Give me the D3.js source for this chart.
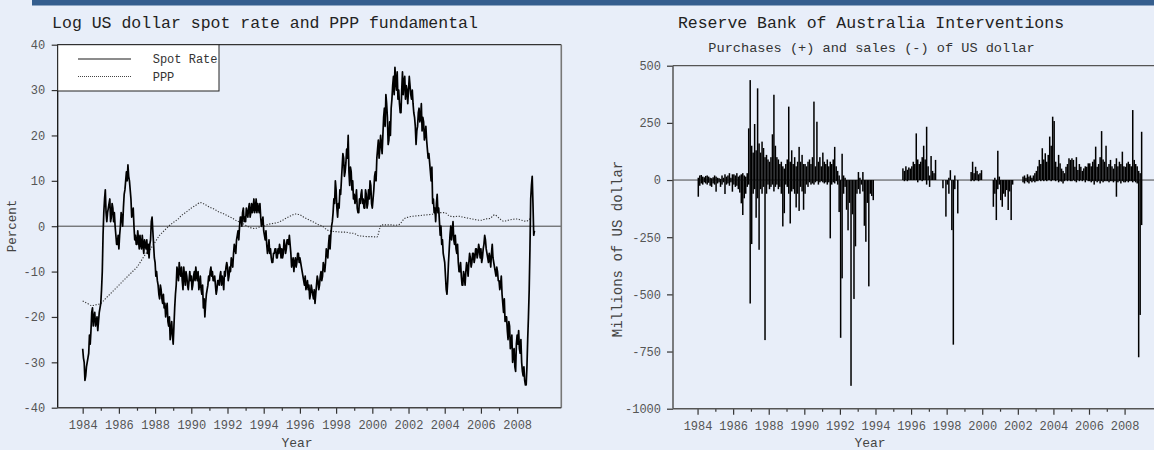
<!DOCTYPE html>
<html><head><meta charset="utf-8">
<script src="https://cdn.jsdelivr.net/npm/d3@7"></script>
<style>
html,body{margin:0;padding:0;background:#e8eef9;}
svg{display:block;}
text{font-family:"Liberation Mono","Courier New",monospace;}
</style></head><body>
<svg id="c" width="1154" height="450"></svg>
<script>
// ---------- DATA ----------
const startYear = 1984;           // first month of every monthly series
const yearTicks = [1984,1986,1988,1990,1992,1994,1996,1998,2000,2002,2004,2006,2008];
const minorYearTicks = [1985,1987,1989,1991,1993,1995,1997,1999,2001,2003,2005,2007];
const spotTicks = [-40,-30,-20,-10,0,10,20,30,40];
const interventionTicks = [-1000,-750,-500,-250,0,250,500];

// Log US dollar spot rate, start of each month, percent
const spotRate = [
 -27,-30,-33,-30,-28,-26,-19,-22,-19,-21,-23,-19,
 -17,-10,3,8,1,4,6,2,4,3,-2,-4,
 -5,0,2,4,8,12,13.5,10,6,3,0,-2,
 -4,-3,-2,-5,-4,-3,-5,-6,-7,-3,2,-4,
 -8,-10,-13,-16,-14,-17,-18,-20,-17,-22,-25,-21,
 -26,-18,-13,-10,-8,-11,-12,-9,-13,-11,-14,-10,
 -11,-13,-10,-9,-12,-14,-11,-15,-18,-20,-15,-13,
 -12,-9,-10,-12,-13,-14,-12,-11,-13,-12,-10,-9,
 -9,-11,-10,-8,-6,-5,-3,-1,0,2,3,1,
 1,3,4,2,5,4,3,6,5,3,2,1,
 -1,-3,-4,-5,-6,-7,-8,-6,-5,-7,-6,-5,
 -5,-6,-4,-5,-3,-2,-6,-8,-10,-7,-8,-6,
 -7,-9,-11,-13,-14,-12,-13,-15,-14,-16,-17,-13,
 -12,-13,-10,-11,-9,-8,-6,-4,-5,0,3,5,
 8,2,4,7,13,15,12,17,20,9,12,10,
 7,6,4,3,5,8,6,4,7,5,6,9,
 4,8,12,15,19,17,18,20,26,29,24,19,
 20,28,33,35,30,28,27,25,34,32,28,30,
 30,31,28,27,24,18,22,26,24,21,23,20,
 19,15,14,10,5,3,1,7,4,-2,-4,-6,
 -8,-14,-12,-5,0,-1,-3,-2,-6,-8,-10,-11,
 -13,-11,-10,-9,-8,-7,-8,-6,-7,-5,-6,-5,
 -5,-7,-4,-3,-6,-8,-7,-6,-7,-9,-11,-10,
 -12,-13,-15,-19,-21,-20,-25,-22,-26,-30,-27,-32,
 -24,-23,-28,-30,-33,-34,-35,-25,-14,6,11,-2
];
// Log US dollar spot rate, middle of each month, percent
const spotRateMid = [
 -29,-34,-31,-29,-24,-23,-18,-20,-22,-20,-21,-18,
 -14,-2,6,3,3,5,1,5,1,0,-4,-2,
 -2,3,0,7,10,10,11,8,2,4,-3,-4,
 -1,-5,-4,-2,-6,-4,-3,-4,-4,1,-1,-7,
 -11,-12,-15,-13,-16,-15,-17,-18,-21,-20,-23,-24,
 -22,-15,-9,-12,-10,-9,-14,-11,-10,-13,-12,-12,
 -14,-11,-12,-11,-10,-13,-14,-13,-16,-17,-14,-11,
 -10,-11,-12,-11,-15,-12,-13,-10,-11,-14,-11,-8,
 -12,-9,-7,-9,-4,-6,-2,-3,2,0,4,2,
 4,2,5,3,3,6,4,3,4,5,0,2,
 -2,-1,-6,-3,-5,-8,-6,-5,-7,-5,-4,-7,
 -7,-3,-6,-3,-4,-4,-9,-7,-8,-9,-6,-8,
 -8,-10,-12,-11,-13,-14,-16,-13,-15,-14,-15,-11,
 -14,-11,-12,-8,-10,-5,-7,-2,-2,1,6,10,
 4,5,8,10,16,11,14,15,12,13,8,6,
 5,8,3,6,7,5,4,8,4,8,10,5,
 6,11,10,17,15,20,16,24,22,27,18,23,
 26,31,29,32,34,30,25,30,29,33,31,27,
 33,29,30,25,22,21,25,23,27,24,19,22,
 17,16,12,13,6,4,5,3,1,0,-3,-7,
 -11,-15,-8,-2,-3,1,-4,-5,-4,-10,-8,-13,
 -10,-13,-8,-11,-6,-9,-6,-8,-5,-7,-4,-7,
 -8,-5,-2,-5,-7,-6,-9,-4,-8,-10,-9,-12,
 -14,-11,-17,-16,-20,-23,-21,-27,-24,-28,-31,-26,
 -26,-27,-25,-32,-31,-35,-31,-20,-5,9,5,-1
];

// PPP fundamental, quarterly
const pppQuarterly = [
 -16.5,-17.0,-17.5,-17.3,
 -17.0,-16.0,-15.0,-14.0,
 -13.0,-12.0,-11.0,-10.0,
 -9.0,-7.5,-6.0,-5.0,
 -3.5,-2.0,-1.0,0.0,
 0.8,1.5,2.5,3.2,
 4.0,4.6,5.2,4.8,
 4.2,3.8,3.2,2.8,
 2.3,1.8,1.2,0.8,
 0.2,-0.3,-0.5,-0.2,
 0.0,0.4,0.6,0.8,
 1.2,1.8,2.3,2.7,
 2.5,1.9,1.4,0.9,
 0.4,0.0,-0.8,-1.1,
 -1.2,-1.3,-1.3,-1.5,
 -1.6,-2.1,-2.2,-2.3,
 -2.3,-2.4,0.3,0.3,
 0.3,0.2,0.4,1.6,
 2.0,2.2,2.3,2.4,
 2.5,2.6,2.8,3.0,
 3.0,2.3,2.1,2.2,
 2.0,1.8,1.6,1.4,
 1.3,1.6,1.7,2.5,
 1.8,1.1,1.3,1.5,
 1.6,1.3,1.1,1.8
];

// RBA purchases (+) of US dollar, monthly peak, US$ millions
const purchases = [
 10,20,22,15,12,18,20,15,10,8,12,20,
 15,10,8,5,20,10,25,15,20,30,10,25,
 25,20,30,15,20,25,30,20,15,30,226,437,
 150,120,245,130,401,160,120,168,140,100,110,90,
 80,100,200,373,150,100,90,70,80,60,50,70,
 90,321,80,130,70,100,60,80,145,80,110,70,
 70,60,80,90,70,100,343,60,255,80,100,60,
 120,80,70,90,60,80,70,90,145,60,40,20,
 0,115,20,10,0,0,0,0,0,0,0,0,
 35,10,0,35,0,0,0,0,0,0,0,0,
 0,0,0,0,0,0,0,0,0,0,0,0,
 0,0,0,0,0,0,51,40,60,45,55,50,
 60,80,70,204,90,70,80,100,150,90,233,60,
 20,105,40,30,88,0,0,0,0,0,0,0,
 0,10,43,0,0,20,0,0,0,0,0,0,
 0,0,0,0,35,80,30,58,40,25,30,43,
 0,0,0,0,0,0,0,0,10,0,128,15,
 0,0,0,0,0,0,0,0,0,0,0,0,
 0,0,0,15,20,10,25,15,20,10,20,30,
 40,60,88,70,139,90,117,80,110,190,150,277,
 258,80,58,110,73,50,40,30,58,70,95,88,
 95,88,58,100,44,70,58,40,51,60,58,73,
 73,60,80,90,146,58,70,100,214,90,80,150,
 58,70,88,60,50,70,95,60,80,70,124,60,
 58,73,80,70,60,306,88,70,60,40,30,211
];

// RBA sales (-) of US dollar, monthly trough, US$ millions
const sales = [
 -73,-25,-15,-20,-10,-15,-20,-12,-25,-30,-15,-20,
 -51,-15,-10,-30,-20,-10,-61,-20,-15,-25,-10,-51,
 -20,-30,-25,-40,-55,-102,-153,-80,-60,-30,-20,-540,
 -280,-60,-40,-165,-80,-305,-40,-60,-30,-700,-60,-20,
 -40,-30,-20,-50,-30,-20,-40,-30,-60,-203,-145,-20,
 -30,-60,-190,-50,-40,-60,-120,-60,-135,-30,-50,-130,
 -60,-20,-30,-10,-20,-15,-20,-10,-5,-20,-10,-5,
 -10,-15,-10,-20,-10,-255,-20,-10,-15,-5,-20,-140,
 -690,-430,-60,-30,-130,-220,-100,-900,-150,-520,-290,-60,
 -40,-60,-20,-50,-200,-270,-100,-465,-60,-70,-88,0,
 0,0,0,0,0,0,0,0,0,0,0,0,
 0,0,0,0,0,0,0,-5,0,-5,0,0,
 0,0,0,0,-10,0,0,-5,0,0,-20,0,
 -30,0,0,0,0,0,0,0,0,-36,0,-160,
 -20,-60,0,-219,-720,-40,0,-146,0,0,0,0,
 0,0,0,0,-5,0,-5,0,0,-5,0,0,
 0,0,0,0,0,0,0,-117,-60,-175,-40,-20,
 -88,-117,-60,-73,-44,-131,-50,-175,-20,0,0,0,
 0,0,0,-10,-15,-5,-10,-15,-5,-10,-5,-10,
 -5,-5,0,-5,0,-5,0,-5,0,0,-5,0,
 0,-5,0,-10,-5,-7,-15,-5,0,-5,0,-5,
 -5,0,-5,-10,0,-5,0,-5,0,-10,0,-5,
 -5,-10,-5,-20,-5,-10,-5,-15,-5,-10,-5,-5,
 -5,-10,-5,-5,-10,-5,-73,-10,-5,-15,-5,-10,
 -10,-5,-10,-5,-5,-10,-5,-10,-15,-775,-590,-197
];

// ---------- DRAW ----------
const svg = d3.select("#c");
const W = 1154, H = 450;
svg.append("rect").attr("width",W).attr("height",H).attr("fill","#e8eef9");
svg.append("rect").attr("x",32).attr("y",0).attr("width",W-32).attr("height",5.5).attr("fill","#355e8e");

const xDomain = [1982.62, 2010.44];
const monthYear = i => startYear + i/12;

// ---- Left panel ----
const L = {x0:57.7, x1:561.3, y0:44.7, y1:407.7};
const xL = d3.scaleLinear().domain(xDomain).range([L.x0, L.x1]);
const yL = d3.scaleLinear().domain([-40,40]).range([L.y1, L.y0]);
const gL = svg.append("g");

gL.append("text").attr("x",265).attr("y",28).attr("text-anchor","middle")
  .attr("font-size",16.5).attr("fill","#222").text("Log US dollar spot rate and PPP fundamental");

gL.append("line").attr("x1",L.x0).attr("x2",L.x1).attr("y1",yL(0)).attr("y2",yL(0))
  .attr("stroke","#444").attr("stroke-width",1);

const pppLine = d3.line().x((d,i)=>xL(startYear + i/4)).y(d=>yL(d)).curve(d3.curveMonotoneX);
gL.append("path").datum(pppQuarterly).attr("d",pppLine).attr("fill","none")
  .attr("stroke","#333").attr("stroke-width",1.1).attr("stroke-dasharray","1.2,1.6");

// spot series: start-of-month and mid-month observations in time order
const spotSeries = [];
spotRate.forEach((v,i)=>{
  spotSeries.push({t:monthYear(i), v});
  spotSeries.push({t:monthYear(i)+1/24, v:spotRateMid[i]});
});
const spotLine = d3.line().x(d=>xL(d.t)).y(d=>yL(d.v));
gL.append("path").datum(spotSeries).attr("d",spotLine).attr("fill","none")
  .attr("stroke","#000").attr("stroke-width",1.7).attr("stroke-linejoin","round");

gL.append("line").attr("x1",L.x0).attr("x2",L.x1).attr("y1",L.y0).attr("y2",L.y0).attr("stroke","#333").attr("stroke-width",1.2);
gL.append("line").attr("x1",L.x1).attr("x2",L.x1).attr("y1",L.y0).attr("y2",L.y1).attr("stroke","#777").attr("stroke-width",1.6);

const yAxL = d3.axisLeft(yL).tickValues(spotTicks).tickSize(6).tickPadding(6.5).tickFormat(d=>String(d));
const gyL = gL.append("g").attr("transform",`translate(${L.x0},0)`).call(yAxL);
const xAxL = d3.axisBottom(xL).tickValues(yearTicks).tickSize(6).tickPadding(7).tickFormat(d3.format("d"));
const gxL = gL.append("g").attr("transform",`translate(0,${L.y1})`).call(xAxL);
const xAxLm = d3.axisBottom(xL).tickValues(minorYearTicks).tickSize(3).tickFormat("");
const gxLm = gL.append("g").attr("transform",`translate(0,${L.y1})`).call(xAxLm);
[gyL,gxL,gxLm].forEach(g=>{
  g.select(".domain").remove();
  g.selectAll("line").attr("stroke","#333").attr("stroke-width",1.2);
  g.selectAll("text").attr("font-size",12).attr("fill","#555").attr("font-family","Liberation Mono, monospace");
});
gL.append("line").attr("x1",L.x0).attr("x2",L.x0).attr("y1",L.y0).attr("y2",L.y1).attr("stroke","#111").attr("stroke-width",1.3);
gL.append("line").attr("x1",L.x0).attr("x2",L.x1).attr("y1",L.y1).attr("y2",L.y1).attr("stroke","#444").attr("stroke-width",1.4);

gL.append("text").attr("transform","translate(16,226) rotate(-90)").attr("text-anchor","middle")
  .attr("font-size",12.5).attr("fill","#444").text("Percent");
gL.append("text").attr("x",297).attr("y",447).attr("text-anchor","middle")
  .attr("font-size",13).attr("fill","#444").text("Year");

// legend
const lg = gL.append("g");
lg.append("clipPath").attr("id","lgclip").append("rect")
  .attr("x",L.x0).attr("y",L.y0).attr("width",161.3).attr("height",46.3);
lg.append("rect").attr("x",L.x0).attr("y",L.y0).attr("width",161.3).attr("height",46.3)
  .attr("fill","#fff").attr("stroke","#222").attr("stroke-width",1);
lg.append("line").attr("x1",78).attr("x2",131).attr("y1",59).attr("y2",59).attr("stroke","#666").attr("stroke-width",1.6);
lg.append("line").attr("x1",78).attr("x2",131).attr("y1",76.5).attr("y2",76.5).attr("stroke","#444").attr("stroke-width",1).attr("stroke-dasharray","1,1");
const lgt = lg.append("g").attr("clip-path","url(#lgclip)");
lgt.append("text").attr("x",152.7).attr("y",63).attr("font-size",12).attr("fill","#333").text("Spot Rate");
lgt.append("text").attr("x",152.7).attr("y",80.5).attr("font-size",12).attr("fill","#333").text("PPP");

// ---- Right panel ----
const R = {x0:673, x1:1168, y0:65.7, y1:408.7};
const xR = d3.scaleLinear().domain(xDomain).range([R.x0, R.x1]);
const yR = d3.scaleLinear().domain([-1000,500]).range([R.y1, R.y0]);
const gR = svg.append("g");

gR.append("text").attr("x",871).attr("y",28).attr("text-anchor","middle")
  .attr("font-size",16.5).attr("fill","#222").text("Reserve Bank of Australia Interventions");
gR.append("text").attr("x",871.5).attr("y",52).attr("text-anchor","middle")
  .attr("font-size",13.6).attr("fill","#333").text("Purchases (+) and sales (-) of US dollar");

gR.append("line").attr("x1",R.x0).attr("x2",R.x1).attr("y1",yR(0)).attr("y2",yR(0))
  .attr("stroke","#444").attr("stroke-width",1);

const bw = 1.5;
gR.append("g").selectAll("rect").data(purchases.map((v,i)=>({v,i})).filter(d=>d.v>0)).join("rect")
  .attr("x",d=>xR(monthYear(d.i)+1/24)-bw/2).attr("width",bw)
  .attr("y",d=>yR(d.v)).attr("height",d=>yR(0)-yR(d.v)).attr("fill","#000");
gR.append("g").selectAll("rect").data(sales.map((v,i)=>({v,i})).filter(d=>d.v<0)).join("rect")
  .attr("x",d=>xR(monthYear(d.i)+1/24)-bw/2).attr("width",bw)
  .attr("y",yR(0)).attr("height",d=>yR(d.v)-yR(0)).attr("fill","#000");

gR.append("line").attr("x1",R.x0).attr("x2",R.x1).attr("y1",R.y0).attr("y2",R.y0).attr("stroke","#555").attr("stroke-width",1.2);

const yAxR = d3.axisLeft(yR).tickValues(interventionTicks).tickSize(6).tickPadding(6).tickFormat(d=>String(d));
const gyR = gR.append("g").attr("transform",`translate(${R.x0},0)`).call(yAxR);
const xAxR = d3.axisBottom(xR).tickValues(yearTicks).tickSize(6).tickPadding(7).tickFormat(d3.format("d"));
const gxR = gR.append("g").attr("transform",`translate(0,${R.y1})`).call(xAxR);
const xAxRm = d3.axisBottom(xR).tickValues(minorYearTicks).tickSize(3).tickFormat("");
const gxRm = gR.append("g").attr("transform",`translate(0,${R.y1})`).call(xAxRm);
[gyR,gxR,gxRm].forEach(g=>{
  g.select(".domain").remove();
  g.selectAll("line").attr("stroke","#333").attr("stroke-width",1.2);
  g.selectAll("text").attr("font-size",12).attr("fill","#555").attr("font-family","Liberation Mono, monospace");
});
gR.append("line").attr("x1",R.x0).attr("x2",R.x0).attr("y1",R.y0).attr("y2",R.y1).attr("stroke","#555").attr("stroke-width",1.5);
gR.append("line").attr("x1",R.x0).attr("x2",R.x1).attr("y1",R.y1).attr("y2",R.y1).attr("stroke","#555").attr("stroke-width",1.5);

gR.append("text").attr("transform","translate(622,249) rotate(-90)").attr("text-anchor","middle")
  .attr("font-size",14).attr("fill","#444").text("Millions of US dollar");
gR.append("text").attr("x",870).attr("y",447).attr("text-anchor","middle")
  .attr("font-size",13).attr("fill","#444").text("Year");
</script>
</body></html>
